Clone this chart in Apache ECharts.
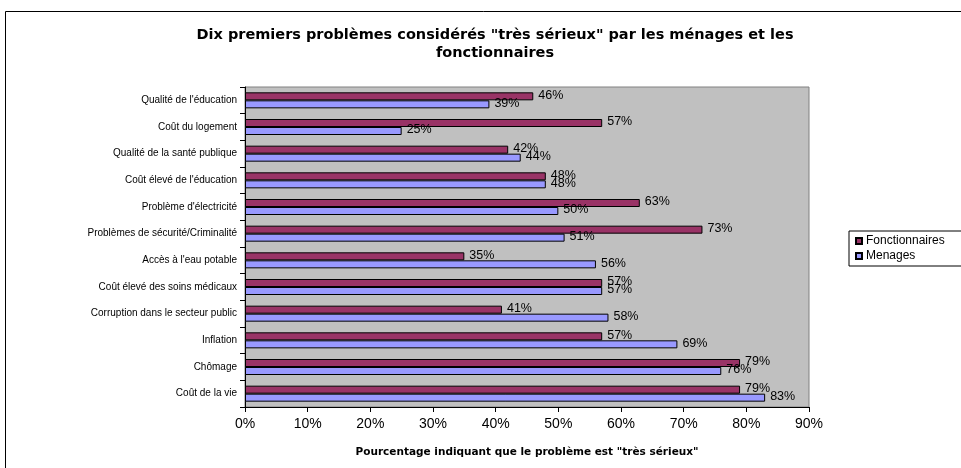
<!DOCTYPE html>
<html>
<head>
<meta charset="utf-8">
<script src="https://cdn.jsdelivr.net/npm/echarts@6/dist/echarts.min.js"></script>
<style>
html,body{margin:0;padding:0;background:#fff;}
#c{width:961px;height:468px;}
</style>
</head>
<body>
<div id="c"></div>
<script>
// categories bottom to top (ECharts category axis starts at bottom)
const categories = [
  "Coût de la vie",
  "Chômage",
  "Inflation",
  "Corruption dans le secteur public",
  "Coût élevé des soins médicaux",
  "Accès à l'eau potable",
  "Problèmes de sécurité/Criminalité",
  "Problème d'électricité",
  "Coût élevé de l'éducation",
  "Qualité de la santé publique",
  "Coût du logement",
  "Qualité de l'éducation"
];
const fonctionnaires = [79, 79, 57, 41, 57, 35, 73, 63, 48, 42, 57, 46];
const menages        = [83, 76, 69, 58, 57, 56, 51, 50, 48, 44, 25, 39];
const xTicks = [0, 10, 20, 30, 40, 50, 60, 70, 80, 90];

const chart = echarts.init(document.getElementById('c'));
const labelStyle = {
  show: true, position: 'right', distance: 5, formatter: '{c}%',
  fontFamily: 'Liberation Sans', fontSize: 12.5, color: '#000', offset: [0, -1]
};
chart.setOption({
  animation: false,
  title: {
    text: 'Dix premiers problèmes considérés "très sérieux" par les ménages et les\nfonctionnaires',
    left: 490, top: 21, textAlign: 'center',
    textStyle: { fontFamily: 'DejaVu Sans', fontWeight: 'bold', fontSize: 14.5, lineHeight: 18, color: '#000' }
  },
  graphic: [{
    type: 'rect', shape: { x: 5.5, y: 11.5, width: 1000, height: 500 },
    style: { fill: 'none', stroke: '#000', lineWidth: 1 }, silent: true, z: -10
  }],
  legend: {
    data: ['Fonctionnaires', 'Menages'],
    orient: 'vertical', left: 849, top: 231,
    itemWidth: 6, itemHeight: 6, itemGap: 3,
    padding: [4, 40, 4, 6],
    borderColor: '#000', borderWidth: 1,
    icon: 'rect',
    textStyle: { fontFamily: 'Liberation Sans', fontSize: 12, color: '#000', padding: [0,0,0,-1] }
  },
  grid: {
    left: 245, right: 152, top: 87, bottom: 61,
    show: true, backgroundColor: '#C0C0C0', borderColor: '#808080', borderWidth: 1
  },
  xAxis: {
    type: 'value', min: 0, max: 90, interval: 10,
    name: 'Pourcentage indiquant que le problème est "très sérieux"',
    nameLocation: 'middle', nameGap: 40,
    nameTextStyle: { fontFamily: 'DejaVu Sans', fontWeight: 'bold', fontSize: 10.5, color: '#000' },
    axisLine: { show: true, lineStyle: { color: '#000', width: 1 } },
    axisTick: { show: true, length: 5, lineStyle: { color: '#000' } },
    axisLabel: { formatter: v => v + '%', fontFamily: 'Liberation Sans', fontSize: 14, color: '#000', margin: 10 },
    splitLine: { show: false }
  },
  yAxis: {
    type: 'category', data: categories,
    axisLine: { show: true, lineStyle: { color: '#000', width: 1 } },
    axisTick: { show: true, length: 5, lineStyle: { color: '#000' } },
    axisLabel: { fontFamily: 'Liberation Sans', fontSize: 10, color: '#000', margin: 8 }
  },
  series: [
    {
      name: 'Fonctionnaires', type: 'bar', data: fonctionnaires,
      barGap: '0%', barCategoryGap: '40%',
      itemStyle: { color: '#993366', borderColor: '#000', borderWidth: 1 },
      label: labelStyle
    },
    {
      name: 'Menages', type: 'bar', data: menages,
      barGap: '0%', barCategoryGap: '40%',
      itemStyle: { color: '#9999FF', borderColor: '#000', borderWidth: 1 },
      label: labelStyle
    }
  ]
});
</script>
</body>
</html>
